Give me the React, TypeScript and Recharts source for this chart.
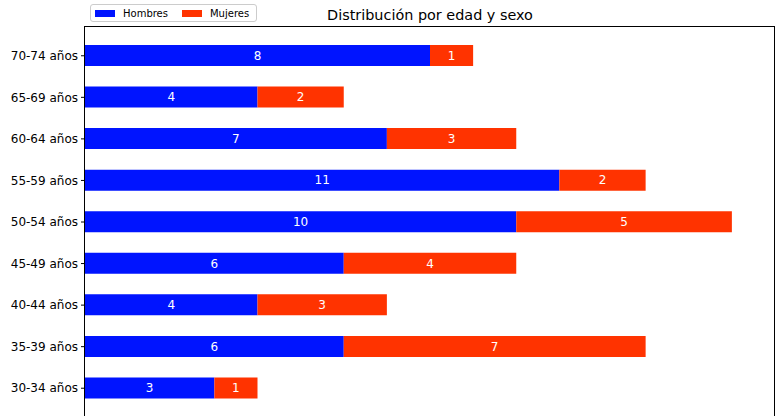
import { BarChart, Bar, XAxis, YAxis, LabelList } from 'recharts';

// age groups, bottom to top as in the original plot
const ageGroups = ['30-34 años', '35-39 años', '40-44 años', '45-49 años', '50-54 años', '55-59 años', '60-64 años', '65-69 años', '70-74 años'];
const hombres = [3, 6, 4, 6, 10, 11, 7, 4, 8];
const mujeres = [1, 7, 3, 4, 5, 2, 3, 2, 1];

const BLUE = '#0014ff';
const RED = '#ff3300';
const FONT = '"DejaVu Sans", sans-serif';

const data = ageGroups.map((g, i) => ({ grupo: g, hombres: hombres[i], mujeres: mujeres[i] }));

function LegendBox() {
  const item = (color: string, text: string) => (
    <div style={{ display: 'flex', alignItems: 'center', marginRight: 14 }}>
      <div style={{ width: 20, height: 7, background: color, marginRight: 8 }} />
      <span>{text}</span>
    </div>
  );
  return (
    <div
      style={{
        position: 'absolute', left: 90, top: 4, height: 18, width: 167, boxSizing: 'border-box',
        border: '1px solid #ccc', borderRadius: 3, background: '#fff', display: 'flex', alignItems: 'center',
        paddingLeft: 4, fontFamily: FONT, fontSize: 10, color: '#000',
      }}
    >
      {item(BLUE, 'Hombres')}
      {item(RED, 'Mujeres')}
    </div>
  );
}

export default function App() {
  return (
    <div style={{ position: 'relative', width: 779, height: 416, overflow: 'hidden', background: '#fff' }}>
      <style>{'body{margin:0}'}</style>
      <div
        style={{
          position: 'absolute', left: 85, width: 690, top: 7, textAlign: 'center',
          fontFamily: FONT, fontSize: 14.4, color: '#000',
        }}
      >
        Distribución por edad y sexo
      </div>
      <BarChart
        width={779}
        height={418}
        data={data}
        layout="vertical"
        margin={{ top: 27, right: 4, bottom: 1, left: 0 }}
        barSize={21}
      >
        <XAxis type="number" domain={[0, 16]} hide />
        <YAxis
          type="category"
          dataKey="grupo"
          reversed
          width={85}
          padding={{ top: 8, bottom: 8 }}
          axisLine={false}
          tickSize={4}
          tickMargin={3}
          tickLine={{ stroke: '#000' }}
          tick={{ fill: '#000', fontSize: 12, fontFamily: FONT }}
          interval={0}
        />
        <Bar dataKey="hombres" stackId="a" fill={BLUE} isAnimationActive={false}>
          <LabelList dataKey="hombres" position="center" fill="#fff" fontSize={12} fontFamily={FONT} />
        </Bar>
        <Bar dataKey="mujeres" stackId="a" fill={RED} isAnimationActive={false}>
          <LabelList dataKey="mujeres" position="center" fill="#fff" fontSize={12} fontFamily={FONT} />
        </Bar>
      </BarChart>
      {/* plot frame, bottom edge falls outside the picture */}
      <div
        style={{
          position: 'absolute', left: 84, top: 26, width: 691, height: 395,
          border: '1px solid #000', boxSizing: 'border-box', pointerEvents: 'none',
        }}
      />
      <LegendBox />
    </div>
  );
}
